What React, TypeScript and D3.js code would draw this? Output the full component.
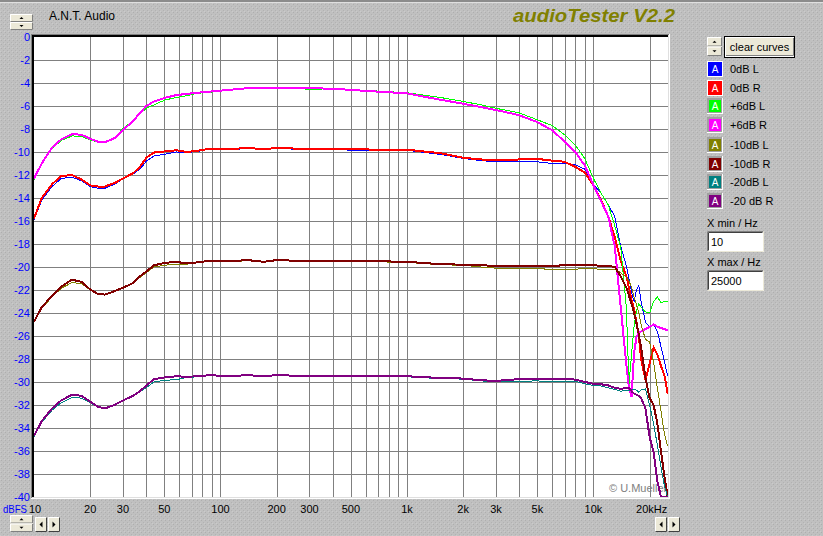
import React from 'react';
import * as d3 from 'd3';

// ---------- data ----------
const freqs = [
  10, 11, 12.5, 14, 16, 18, 20, 22, 24, 27,
  30, 34, 37, 40, 44, 50, 58, 66, 75, 88,
  110, 140, 170, 200, 250, 300, 400, 500, 700, 1000,
  1500, 2000, 2500, 3000, 4000, 5000, 6000, 7000, 8000, 9000,
  10000, 11000, 12000, 13000, 14000, 15000, 15500, 16000, 16500, 17000,
  17500, 18000, 19000, 20000, 21000, 22000, 23000, 24000, 25000,
];

const db0L = [
  -15.9, -14.2, -13.0, -12.3, -12.2, -12.5, -13.0, -13.15, -13.15, -12.8,
  -12.35, -11.9, -11.5, -10.8, -10.35, -10.2, -10.0, -10.05, -9.95, -9.75,
  -9.8, -9.7, -9.75, -9.7, -9.75, -9.75, -9.75, -9.85, -9.85, -9.85,
  -10.2, -10.55, -10.75, -10.85, -10.85, -10.85, -11.0, -11.0, -11.1, -11.5,
  -12.8, -13.6, -14.6, -15.6, -18.2, -19.9, -21.0, -22.2, -23.0, -22.0,
  -21.6, -23.0, -24.8, -25.2, -25.0, -25.6, -26.9, -28.2, -29.5,
];
const db0R = [
  -15.8, -14.0, -12.8, -12.1, -12.0, -12.4, -12.9, -13.0, -13.0, -12.7,
  -12.3, -11.85, -11.3, -10.5, -10.05, -9.95, -9.85, -10.0, -9.9, -9.7,
  -9.75, -9.65, -9.75, -9.65, -9.7, -9.7, -9.7, -9.75, -9.8, -9.8,
  -10.1, -10.5, -10.65, -10.7, -10.65, -10.6, -10.75, -10.85, -11.3, -11.8,
  -12.9, -14.2, -15.6, -17.4, -19.5, -20.8, -21.8, -22.9, -23.6, -24.8,
  -26.0, -28.0, -29.8, -28.4, -27.0, -27.6, -28.6, -29.4, -31.0,
];
const db6L = [
  -12.4, -11.0, -9.7, -9.0, -8.6, -8.65, -8.95, -9.15, -9.15, -8.8,
  -7.95, -7.3, -6.7, -6.2, -5.9, -5.5, -5.25, -5.1, -4.9, -4.8,
  -4.6, -4.45, -4.45, -4.4, -4.45, -4.55, -4.5, -4.6, -4.7, -4.85,
  -5.25, -5.6, -5.9, -6.2, -6.6, -7.2, -7.7, -8.5, -9.4, -10.6,
  -12.3, -13.6, -14.6, -16.4, -18.3, -23.5, -30.2, -27.6, -25.2, -23.8,
  -23.2, -23.5, -23.9, -24.0, -23.0, -22.6, -23.1, -23.0, -23.0,
];
const db6R = [
  -12.3, -11.0, -9.6, -8.9, -8.45, -8.5, -8.85, -9.1, -9.15, -8.8,
  -8.1, -7.3, -6.6, -6.0, -5.6, -5.3, -5.05, -4.95, -4.85, -4.75,
  -4.6, -4.45, -4.42, -4.4, -4.42, -4.45, -4.5, -4.6, -4.75, -4.9,
  -5.45, -5.8, -6.1, -6.35, -6.8, -7.4, -8.1, -9.1, -10.0, -11.2,
  -12.9, -14.3, -15.6, -18.2, -23.5, -28.5, -30.5, -31.3, -27.5, -26.1,
  -25.7, -25.6, -25.4, -25.2, -25.0, -25.2, -25.3, -25.4, -25.5,
];
const dbm10L = [
  -24.8, -23.6, -22.6, -21.85, -21.35, -21.45, -22.0, -22.35, -22.4, -22.1,
  -21.75, -21.35, -20.9, -20.5, -20.0, -19.85, -19.75, -19.75, -19.6, -19.5,
  -19.55, -19.45, -19.55, -19.45, -19.45, -19.45, -19.5, -19.55, -19.55, -19.6,
  -19.8, -19.85, -20.0, -20.1, -20.15, -20.15, -20.2, -20.25, -20.2, -20.1,
  -20.15, -20.2, -20.2, -20.2, -20.5, -20.9, -21.2, -21.8, -22.6, -23.3,
  -24.0, -25.0, -26.3, -26.5, -28.3, -30.5, -32.5, -34.5, -35.6,
];
const dbm10R = [
  -24.75, -23.5, -22.5, -21.7, -21.1, -21.3, -21.95, -22.35, -22.4, -22.1,
  -21.8, -21.4, -20.8, -20.4, -19.85, -19.65, -19.55, -19.7, -19.6, -19.45,
  -19.5, -19.4, -19.55, -19.4, -19.45, -19.45, -19.5, -19.5, -19.5, -19.55,
  -19.75, -19.8, -19.85, -19.9, -19.95, -19.9, -19.9, -19.85, -19.8, -19.85,
  -19.85, -19.9, -19.9, -20.0, -20.8, -21.8, -22.5, -23.2, -24.0, -24.9,
  -25.9, -27.0, -29.6, -31.4, -32.0, -33.6, -36.0, -38.2, -40.0,
];
const dbm20L = [
  -34.75, -33.5, -32.45, -31.8, -31.35, -31.4, -31.8, -32.2, -32.35, -32.0,
  -31.6, -31.2, -30.85, -30.5, -30.0, -29.85, -29.8, -29.6, -29.55, -29.45,
  -29.5, -29.45, -29.5, -29.45, -29.45, -29.5, -29.45, -29.5, -29.55, -29.55,
  -29.7, -29.75, -29.9, -30.0, -29.95, -29.9, -30.0, -29.95, -29.95, -30.15,
  -30.3, -30.35, -30.5, -30.65, -30.8, -30.7, -30.7, -30.7, -30.6, -30.7,
  -30.9, -30.7, -30.6, -32.0, -33.6, -35.5, -37.4, -39.0, -40.0,
];
const dbm20R = [
  -34.7, -33.4, -32.3, -31.6, -31.1, -31.2, -31.7, -32.15, -32.3, -32.0,
  -31.6, -31.2, -30.8, -30.3, -29.75, -29.6, -29.5, -29.55, -29.5, -29.4,
  -29.5, -29.4, -29.5, -29.4, -29.45, -29.45, -29.45, -29.45, -29.45, -29.5,
  -29.65, -29.7, -29.85, -29.9, -29.75, -29.7, -29.75, -29.7, -29.8, -30.0,
  -30.15, -30.2, -30.3, -30.5, -30.6, -30.5, -30.5, -30.8, -31.0, -31.1,
  -31.2, -31.4, -32.3, -34.8, -36.1, -38.6, -40.0, -40.0, -40.0,
];

const seriesNames = ['0dB L', '0dB R', '+6dB L', '+6dB R', '-10dB L', '-10dB R', '-20dB L', '-20 dB R'];
const seriesValues = [db0L, db0R, db6L, db6R, dbm10L, dbm10R, dbm20L, dbm20R];

const xTicks = [10, 20, 30, 50, 100, 200, 300, 500, 1000, 2000, 3000, 5000, 10000, 20000];
const xTickLabels = ['10', '20', '30', '50', '100', '200', '300', '500', '1k', '2k', '3k', '5k', '10k', '20kHz'];
const yTicks = [0, -2, -4, -6, -8, -10, -12, -14, -16, -18, -20, -22, -24, -26, -28, -30, -32, -34, -36, -38, -40];

// ---------- styles ----------
const colors = ['#0000ff', '#ff0000', '#00ff00', '#ff00ff', '#808000', '#800000', '#008080', '#800080'];
const widths = [1, 2, 1, 2, 1, 2, 1, 2];
const FONT = '"Liberation Sans", Arial, sans-serif';
const FACE = '#ece9d8';

const W = 823;
const H = 536;
const PL = 34, PR = 668, PT = 37, PB = 497;

function Spinner({ x, y, w, h }: { x: number; y: number; w: number; h: number }) {
  const hh = h / 2;
  const cx = x + w / 2;
  return (
    <g>
      {[0, 1].map((k) => (
        <g key={k}>
          <rect x={x} y={y + k * hh} width={w} height={hh} fill={FACE} />
          <path d={`M${x + 0.5},${y + k * hh + hh - 0.5}V${y + k * hh + 0.5}H${x + w - 0.5}`} stroke="#fff" fill="none" />
          <path d={`M${x + 0.5},${y + k * hh + hh - 0.5}H${x + w - 0.5}V${y + k * hh + 0.5}`} stroke="#808080" fill="none" />
        </g>
      ))}
      <path d={`M${cx - 2},${y + hh / 2 + 1}L${cx},${y + hh / 2 - 1}L${cx + 2},${y + hh / 2 + 1}Z`} fill="#000" />
      <path d={`M${cx - 2},${y + hh + hh / 2 - 1}L${cx},${y + hh + hh / 2 + 1}L${cx + 2},${y + hh + hh / 2 - 1}Z`} fill="#000" />
    </g>
  );
}

function ArrowBtn({ x, y, dir }: { x: number; y: number; dir: 'l' | 'r' }) {
  const w = 12, h = 15;
  const cx = x + w / 2, cy = y + h / 2;
  return (
    <g>
      <rect x={x} y={y} width={w} height={h} fill={FACE} />
      <path d={`M${x + 0.5},${y + h - 0.5}V${y + 0.5}H${x + w - 0.5}`} stroke="#fff" fill="none" />
      <path d={`M${x + 0.5},${y + h - 0.5}H${x + w - 0.5}V${y + 0.5}`} stroke="#404040" fill="none" />
      {dir === 'l' ? (
        <path d={`M${cx + 1.5},${cy - 3}L${cx - 1.5},${cy}L${cx + 1.5},${cy + 3}Z`} fill="#000" />
      ) : (
        <path d={`M${cx - 1.5},${cy - 3}L${cx + 1.5},${cy}L${cx - 1.5},${cy + 3}Z`} fill="#000" />
      )}
    </g>
  );
}

function InputBox({ x, y, w, h, text }: { x: number; y: number; w: number; h: number; text: string }) {
  return (
    <g>
      <rect x={x} y={y} width={w} height={h} fill="#fff" />
      <path d={`M${x + 0.5},${y + h - 0.5}V${y + 0.5}H${x + w - 0.5}`} stroke="#808080" fill="none" />
      <path d={`M${x + 1.5},${y + h - 1.5}V${y + 1.5}H${x + w - 1.5}`} stroke="#404040" fill="none" />
      <path d={`M${x + 0.5},${y + h - 0.5}H${x + w - 0.5}V${y + 0.5}`} stroke="#ece9d8" fill="none" />
      <text x={x + 4} y={y + h / 2 + 4} fontSize={11} fontFamily={FONT} fill="#000">{text}</text>
    </g>
  );
}

export default function App() {
  const x = d3.scaleLog().domain([10, 25000]).range([PL, 667.7]);
  const y = d3.scaleLinear().domain([-40, 0]).range([PB, PT]);

  const gridX: number[] = [];
  [10, 100, 1000, 10000].forEach((dec) => {
    for (let m = 1; m <= 9; m++) {
      const f = dec * m;
      if (f > 10 && f <= 25000) gridX.push(f);
    }
  });

  const line = d3
    .line<number>()
    .x((_, i) => x(freqs[i]))
    .y((d) => y(d))
    .curve(d3.curveLinear);

  const legendY = [61, 80, 98, 117, 137, 156, 174, 193];

  return (
    <svg width={W} height={H} style={{ position: 'absolute', left: 0, top: 0, display: 'block' }}>
      <defs>
        <pattern id="stip" width={4} height={4} patternUnits="userSpaceOnUse">
          <rect width={4} height={4} fill="#c0c0c0" />
          <rect x={1} y={0} width={1} height={1} fill="#aeaeae" />
          <rect x={3} y={2} width={1} height={1} fill="#b2b2b2" />
          <rect x={0} y={3} width={1} height={1} fill="#cbcbcb" />
        </pattern>
        <clipPath id="plotClip">
          <rect x={PL} y={PT} width={PR - PL} height={PB - PT} />
        </clipPath>
      </defs>

      <rect x={0} y={0} width={W} height={H} fill="url(#stip)" />
      <rect x={0} y={0} width={W} height={2} fill="#8c8c8c" />
      <rect x={0} y={2} width={W} height={1} fill="#e0e0e0" />

      {/* header */}
      <Spinner x={10} y={14} w={23} h={16} />
      <text x={49} y={20} fontSize={12} fontFamily={FONT} fill="#000">A.N.T. Audio</text>
      <text x={513} y={22} fontSize={19} fontWeight="bold" fontStyle="italic" fontFamily={FONT} fill="#808000" textLength={162} lengthAdjust="spacingAndGlyphs">
        audioTester V2.2
      </text>

      {/* plot area */}
      <rect x={PL} y={PT} width={PR - PL} height={PB - PT} fill="#fff" />
      <g stroke="#808080" strokeWidth={1} shapeRendering="crispEdges">
        {gridX.map((f) => (
          <line key={'gx' + f} x1={Math.round(x(f)) + 0.5} x2={Math.round(x(f)) + 0.5} y1={PT} y2={PB} />
        ))}
        {yTicks.slice(1, -1).map((v) => (
          <line key={'gy' + v} x1={PL} x2={PR} y1={Math.round(y(v)) + 0.5} y2={Math.round(y(v)) + 0.5} />
        ))}
      </g>
      <text x={609} y={492} fontSize={11} fontFamily={FONT} fill="#808080">© U.Mueller</text>

      <g clipPath="url(#plotClip)" fill="none" strokeLinejoin="miter">
        {seriesValues.map((vals, i) => (
          <path key={seriesNames[i]} d={line(vals) || ''} stroke={colors[i]} strokeWidth={widths[i]} shapeRendering="crispEdges" />
        ))}
      </g>

      {/* plot 3D border */}
      <g shapeRendering="crispEdges">
        <rect x={PL - 3} y={PT - 3} width={1} height={PB - PT + 4} fill="#808080" />
        <rect x={PL - 3} y={PT - 3} width={PR - PL + 4} height={1} fill="#808080" />
        <rect x={PL - 2} y={PT - 2} width={2} height={PB - PT + 2} fill="#000" />
        <rect x={PL - 2} y={PT - 2} width={PR - PL + 2} height={2} fill="#000" />
        <rect x={PL - 2} y={PB} width={PR - PL + 2} height={1} fill="#dfdfdf" />
        <rect x={PR} y={PT - 2} width={1} height={PB - PT + 3} fill="#dfdfdf" />
        <rect x={PL - 3} y={PB + 1} width={PR - PL + 5} height={1} fill="#fff" />
        <rect x={PR + 1} y={PT - 3} width={1} height={PB - PT + 5} fill="#fff" />
      </g>

      {/* y axis labels */}
      {yTicks.map((v) => (
        <text key={'yl' + v} x={30} y={y(v) + 4} textAnchor="end" fontSize={11} fontFamily={FONT} fill="#0000ff">
          {v}
        </text>
      ))}
      <text x={3} y={513} fontSize={11} fontFamily={FONT} fill="#0000ff" textLength={24} lengthAdjust="spacingAndGlyphs">dBFS</text>

      {/* x axis labels */}
      {xTicks.map((f, i) => (
        <text key={'xl' + f} x={x(f) + (i === 0 ? 1 : i === xTicks.length - 1 ? 2 : 0)} y={513} textAnchor="middle" fontSize={11} fontFamily={FONT} fill="#000">
          {xTickLabels[i]}
        </text>
      ))}

      {/* bottom controls */}
      <Spinner x={10} y={515} w={23} h={17} />
      <ArrowBtn x={35} y={517} dir="l" />
      <ArrowBtn x={48} y={517} dir="r" />
      <ArrowBtn x={655} y={517} dir="l" />
      <ArrowBtn x={668} y={517} dir="r" />

      {/* right panel */}
      <Spinner x={707} y={37} w={15} h={19} />
      <g>
        <rect x={724} y={36} width={71} height={22} fill="#000" />
        <rect x={725.5} y={37.5} width={68} height={19} fill={FACE} stroke="#fff" strokeWidth={1} />
        <path d="M726,55.5H793.5V38" stroke="#808080" fill="none" />
        <text x={759.5} y={51} textAnchor="middle" fontSize={11} fontFamily={FONT} fill="#000">clear curves</text>
      </g>

      {seriesNames.map((name, i) => {
        const yy = legendY[i];
        const highlighted = i < 2;
        return (
          <g key={'lg' + name} shapeRendering="crispEdges">
            {highlighted ? (
              <>
                <rect x={707} y={yy} width={16} height={16} fill="#fff" />
                <rect x={708} y={yy + 1} width={14} height={14} fill={colors[i]} />
              </>
            ) : (
              <>
                <rect x={707} y={yy} width={16} height={16} fill="#fff" />
                <rect x={707} y={yy} width={15} height={15} fill="#a0a0a0" />
                <rect x={709} y={yy + 2} width={12} height={12} fill={colors[i]} />
              </>
            )}
            <text x={715} y={yy + 12} textAnchor="middle" fontSize={10} fontFamily={FONT} fill="#fff">A</text>
            <text x={730} y={yy + 12} fontSize={11} fontFamily={FONT} fill="#000">{name}</text>
          </g>
        );
      })}

      <text x={707} y={227} fontSize={11} fontFamily={FONT} fill="#000">X min / Hz</text>
      <InputBox x={707} y={231} w={57} h={21} text="10" />
      <text x={707} y={266} fontSize={11} fontFamily={FONT} fill="#000">X max / Hz</text>
      <InputBox x={707} y={270} w={57} h={21} text="25000" />
    </svg>
  );
}
